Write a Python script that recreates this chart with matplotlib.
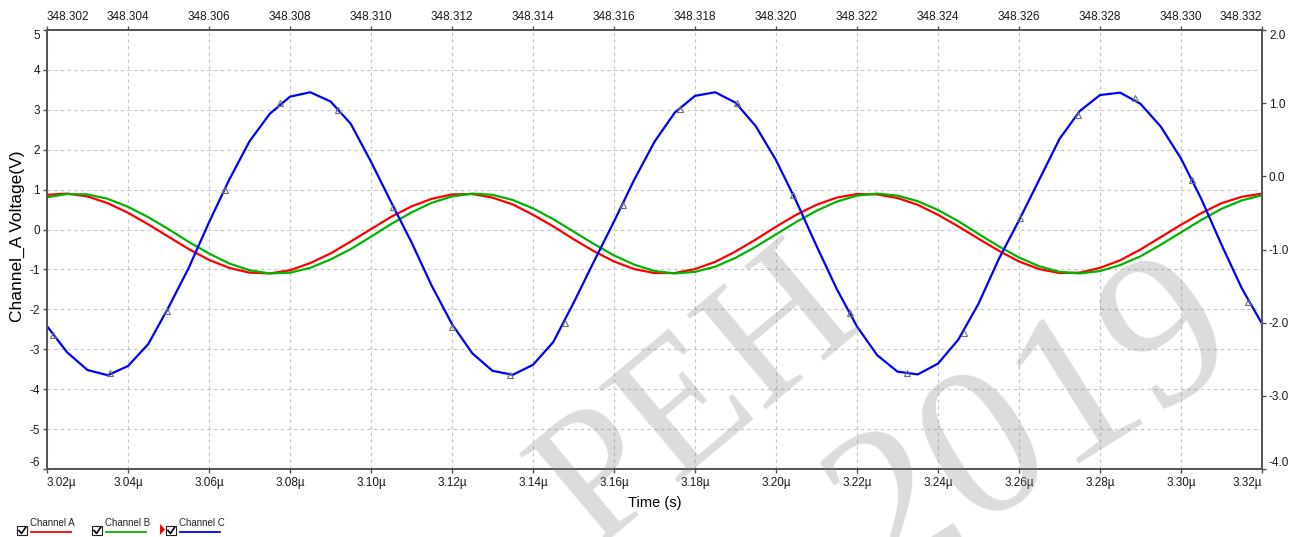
import numpy as np
import matplotlib
matplotlib.use('Agg')
import matplotlib.pyplot as plt
from matplotlib.patches import Rectangle, Polygon
from matplotlib.lines import Line2D

plt.rcParams['font.family'] = ['Liberation Sans', 'DejaVu Sans']
plt.rcParams['axes.unicode_minus'] = False

# samples every 0.005 us starting at 3.020 us
t_start = 3.020
t_step = 0.005

chan_a = [0.87, 0.90, 0.83, 0.66, 0.42, 0.13, -0.18, -0.49, -0.76, -0.96,
          -1.08, -1.10, -1.02, -0.84, -0.60, -0.30, 0.01, 0.32, 0.58, 0.77,
          0.88, 0.89, 0.80, 0.63, 0.37, 0.08, -0.24, -0.54, -0.80, -0.99,
          -1.09, -1.09, -0.99, -0.81, -0.55, -0.25, 0.07, 0.37, 0.62, 0.80,
          0.89, 0.88, 0.79, 0.62, 0.37, 0.08, -0.23, -0.53, -0.80, -0.99,
          -1.09, -1.08, -0.96, -0.77, -0.50, -0.19, 0.12, 0.41, 0.66, 0.82,
          0.90]
chan_b = [0.81, 0.89, 0.88, 0.77, 0.57, 0.31, 0.01, -0.31, -0.60, -0.85,
          -1.02, -1.10, -1.08, -0.96, -0.75, -0.49, -0.18, 0.14, 0.43, 0.67,
          0.83, 0.90, 0.87, 0.74, 0.53, 0.26, -0.05, -0.36, -0.65, -0.88,
          -1.04, -1.10, -1.06, -0.93, -0.71, -0.43, -0.12, 0.19, 0.47, 0.70,
          0.85, 0.90, 0.85, 0.71, 0.49, 0.21, -0.11, -0.42, -0.70, -0.92,
          -1.06, -1.10, -1.04, -0.89, -0.67, -0.38, -0.07, 0.24, 0.52, 0.73,
          0.86]
chan_c = [-2.42, -3.08, -3.52, -3.65, -3.42, -2.87, -1.95, -0.96, 0.18, 1.25,
          2.21, 2.90, 3.33, 3.44, 3.21, 2.65, 1.70, 0.68, -0.32, -1.41,
          -2.37, -3.10, -3.54, -3.64, -3.39, -2.82, -1.84, -0.81, 0.20, 1.25,
          2.20, 2.93, 3.35, 3.44, 3.18, 2.59, 1.74, 0.71, -0.41, -1.49,
          -2.43, -3.15, -3.56, -3.63, -3.36, -2.76, -1.86, -0.74, 0.23, 1.25,
          2.27, 2.97, 3.37, 3.43, 3.15, 2.58, 1.78, 0.77, -0.38, -1.47,
          -2.36]

# triangle markers on channel C
marker_t = [3.0216, 3.0356, 3.0496, 3.0640, 3.0775, 3.0919, 3.1055, 3.1199,
            3.1343, 3.1479, 3.1622, 3.1763, 3.1903, 3.2043, 3.2183, 3.2323,
            3.2463, 3.2603, 3.2746, 3.2886, 3.3026, 3.3166]
marker_c = [-2.64, -3.60, -2.04, 0.99, 3.16, 3.00, 0.57, -2.44, -3.65, -2.34,
            0.61, 3.01, 3.16, 0.87, -2.10, -3.60, -2.60, 0.28, 2.87, 3.29,
            1.24, -1.81]

bottom_ticks = [3.02, 3.04, 3.06, 3.08, 3.10, 3.12, 3.14, 3.16, 3.18, 3.20,
                3.22, 3.24, 3.26, 3.28, 3.30, 3.32]
bottom_labels = ['3.02µ', '3.04µ', '3.06µ', '3.08µ', '3.10µ', '3.12µ', '3.14µ', '3.16µ',
                 '3.18µ', '3.20µ', '3.22µ', '3.24µ', '3.26µ', '3.28µ', '3.30µ', '3.32µ']
top_ticks = [348.302, 348.304, 348.306, 348.308, 348.310, 348.312, 348.314, 348.316,
             348.318, 348.320, 348.322, 348.324, 348.326, 348.328, 348.330, 348.332]
top_labels = ['348.302', '348.304', '348.306', '348.308', '348.310', '348.312',
              '348.314', '348.316', '348.318', '348.320', '348.322', '348.324',
              '348.326', '348.328', '348.330', '348.332']
left_ticks = [-6, -5, -4, -3, -2, -1, 0, 1, 2, 3, 4, 5]
right_ticks = [-4.0, -3.0, -2.0, -1.0, 0.0, 1.0, 2.0]

legend_names = ['Channel A', 'Channel B', 'Channel C']
legend_colors = ['#ff0000', '#00b400', '#0000ff']

t = t_start + t_step * np.arange(len(chan_a))

W, H = 1304, 537
fig = plt.figure(figsize=(W / 100, H / 100), dpi=100)
ax = fig.add_axes([47 / W, 1 - 469 / H, (1262 - 47) / W, (469 - 30) / H])

ax.plot(t, chan_a, color=legend_colors[0], lw=1.6)
ax.plot(t, chan_b, color=legend_colors[1], lw=1.6)
ax.plot(t, chan_c, color=legend_colors[2], lw=1.6, solid_joinstyle='round')
ax.plot(marker_t, marker_c, ls='none', marker='^', ms=5, mfc='none',
        mec='#707070', mew=0.8)

ax.set_xlim(3.02, 3.32)
ax.set_ylim(-6, 5)
ax.set_xticks(bottom_ticks)
ax.set_xticklabels(bottom_labels)
ax.set_yticks(left_ticks)
ax.set_yticklabels([str(v) for v in left_ticks])
ax.grid(True, color='#c4c4c4', ls=(0, (3, 3)), lw=0.8)
ax.set_axisbelow(True)
ax.set_xlabel('Time (s)', fontsize=10.5, labelpad=5)
ax.set_ylabel('Channel_A Voltage(V)', fontsize=12.5)
ax.yaxis.set_label_coords(-0.018, 0.53)

axr = ax.twinx()
axr.set_ylim(-4, 2)
axr.set_yticks(right_ticks)
axr.set_yticklabels(['%.1f' % v for v in right_ticks])

axt = ax.twiny()
axt.set_xlim(348.302, 348.332)
axt.set_xticks(top_ticks)
axt.set_xticklabels(top_labels)

for a in (ax, axr, axt):
    a.tick_params(direction='out', length=3, width=1, labelsize=8.5,
                  color='#505050', labelcolor='#1a1a1a', pad=2)
    for s in a.spines.values():
        s.set_color('#555555')
        s.set_linewidth(1.3)
ax.tick_params(axis='x', pad=3)

# keep edge labels inside the frame
xl = ax.get_xticklabels()
xl[0].set_ha('left'); xl[-1].set_ha('right')
tl = axt.get_xticklabels()
tl[0].set_ha('left'); tl[-1].set_ha('right')
yl = ax.get_yticklabels()
yl[0].set_va('bottom'); yl[-1].set_va('top')
rl = axr.get_yticklabels()
rl[0].set_va('bottom'); rl[-1].set_va('top')

# overlay in pixel coords for legend and watermark
ov = fig.add_axes([0, 0, 1, 1])
ov.set_xlim(0, W)
ov.set_ylim(H, 0)
ov.axis('off')

for name, col, x0 in zip(legend_names, legend_colors, [17, 92, 166]):
    ov.add_patch(Rectangle((x0, 526), 10, 9, fc='white', ec='#202020', lw=0.8))
    ov.add_line(Line2D([x0 + 2, x0 + 4.5, x0 + 8.5], [530.5, 533.5, 527.5],
                       color='black', lw=1.2))
    ov.text(x0 + 13, 527.5, name, fontsize=7, va='bottom', ha='left', color='#222222')
    ov.add_line(Line2D([x0 + 14, x0 + 54], [531.7, 531.7], color=col, lw=1.3))
ov.add_patch(Polygon([(160, 524), (160, 535), (165, 529.5)], closed=True,
                     fc='#ff0000', ec='none'))

ov.text(700, 400, 'PEH', fontsize=135, family='Liberation Serif',
        rotation=40, color='gray', alpha=0.28, ha='center', va='center', clip_on=True)
ov.text(1035, 425, '2019', fontsize=155, family='Liberation Serif',
        rotation=32, color='gray', alpha=0.28, ha='center', va='center', clip_on=True)

fig.savefig('out.png', dpi=100)
